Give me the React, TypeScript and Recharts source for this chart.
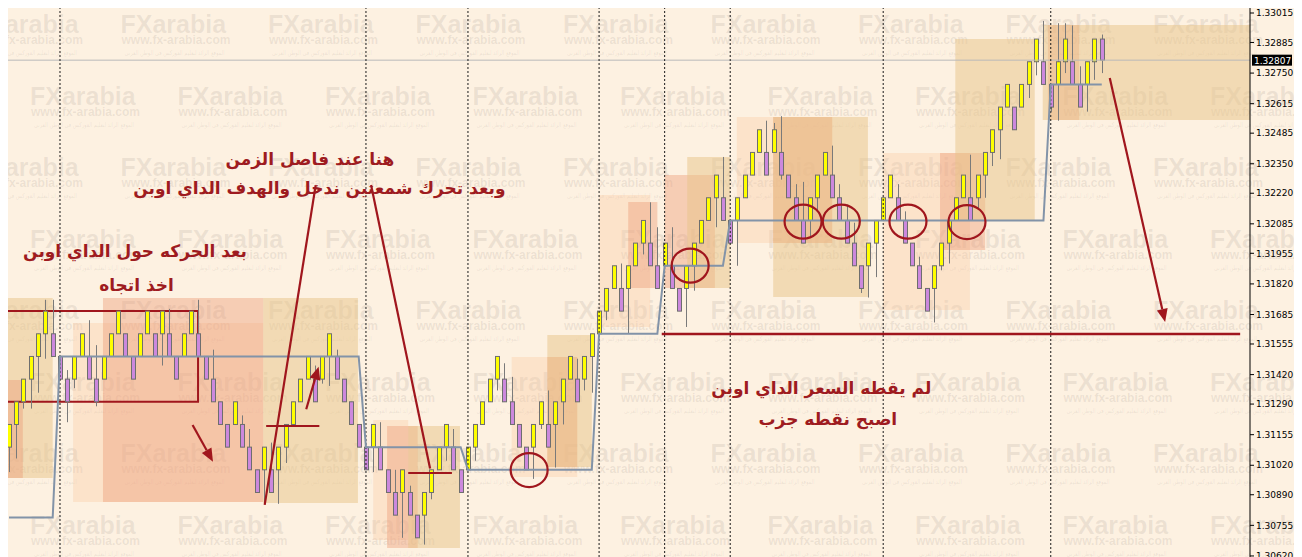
import React from "react";
import {
  ComposedChart,
  Bar,
  Line,
  XAxis,
  YAxis,
  ReferenceArea,
  ReferenceLine,
  ReferenceDot,
} from "recharts";

// price bars: [open, high, low, close]
const candles: number[][] = [
  [1.311, 1.312, 1.3099, 1.312],
  [1.312, 1.313, 1.3105, 1.313],
  [1.313, 1.314, 1.3127, 1.314],
  [1.314, 1.315, 1.3127, 1.315],
  [1.315, 1.316, 1.3134, 1.316],
  [1.316, 1.3175, 1.3149, 1.317],
  [1.316, 1.3175, 1.315, 1.315],
  [1.315, 1.315, 1.314, 1.314],
  [1.314, 1.3144, 1.3121, 1.313],
  [1.314, 1.315, 1.3136, 1.315],
  [1.315, 1.316, 1.315, 1.316],
  [1.315, 1.3166, 1.314, 1.314],
  [1.314, 1.3155, 1.3128, 1.313],
  [1.314, 1.315, 1.314, 1.315],
  [1.315, 1.316, 1.315, 1.316],
  [1.316, 1.317, 1.316, 1.317],
  [1.316, 1.316, 1.315, 1.315],
  [1.315, 1.315, 1.314, 1.314],
  [1.315, 1.316, 1.315, 1.316],
  [1.316, 1.317, 1.316, 1.317],
  [1.316, 1.316, 1.315, 1.315],
  [1.316, 1.317, 1.3146, 1.317],
  [1.316, 1.3171, 1.315, 1.315],
  [1.315, 1.315, 1.314, 1.314],
  [1.315, 1.316, 1.315, 1.316],
  [1.316, 1.317, 1.316, 1.317],
  [1.316, 1.3175, 1.315, 1.315],
  [1.315, 1.315, 1.314, 1.314],
  [1.314, 1.3153, 1.313, 1.313],
  [1.313, 1.313, 1.312, 1.312],
  [1.312, 1.312, 1.311, 1.311],
  [1.312, 1.313, 1.312, 1.313],
  [1.312, 1.3124, 1.311, 1.311],
  [1.311, 1.3118, 1.31, 1.31],
  [1.31, 1.31, 1.309, 1.309],
  [1.31, 1.311, 1.3085, 1.311],
  [1.31, 1.3112, 1.309, 1.309],
  [1.31, 1.311, 1.3085, 1.311],
  [1.311, 1.312, 1.3103, 1.312],
  [1.312, 1.313, 1.312, 1.313],
  [1.313, 1.314, 1.313, 1.314],
  [1.314, 1.315, 1.314, 1.315],
  [1.314, 1.3146, 1.313, 1.313],
  [1.314, 1.315, 1.3138, 1.315],
  [1.315, 1.316, 1.3137, 1.316],
  [1.315, 1.3153, 1.314, 1.314],
  [1.314, 1.314, 1.313, 1.313],
  [1.313, 1.313, 1.312, 1.312],
  [1.312, 1.312, 1.311, 1.311],
  [1.311, 1.311, 1.31, 1.31],
  [1.311, 1.312, 1.3099, 1.312],
  [1.311, 1.3121, 1.31, 1.31],
  [1.31, 1.31, 1.309, 1.309],
  [1.309, 1.31, 1.308, 1.308],
  [1.309, 1.31, 1.307, 1.31],
  [1.309, 1.3093, 1.308, 1.308],
  [1.308, 1.308, 1.307, 1.307],
  [1.308, 1.309, 1.3067, 1.309],
  [1.309, 1.31, 1.3087, 1.31],
  [1.31, 1.311, 1.31, 1.311],
  [1.311, 1.312, 1.3104, 1.312],
  [1.311, 1.3118, 1.31, 1.31],
  [1.31, 1.31, 1.309, 1.309],
  [1.31, 1.311, 1.31, 1.311],
  [1.311, 1.312, 1.3104, 1.312],
  [1.312, 1.313, 1.312, 1.313],
  [1.313, 1.314, 1.313, 1.314],
  [1.314, 1.315, 1.3135, 1.315],
  [1.314, 1.3147, 1.313, 1.313],
  [1.313, 1.3141, 1.312, 1.312],
  [1.312, 1.312, 1.311, 1.311],
  [1.311, 1.311, 1.31, 1.31],
  [1.311, 1.312, 1.3096, 1.312],
  [1.312, 1.313, 1.3118, 1.313],
  [1.312, 1.3135, 1.311, 1.311],
  [1.312, 1.313, 1.3101, 1.313],
  [1.313, 1.314, 1.312, 1.314],
  [1.314, 1.315, 1.314, 1.315],
  [1.314, 1.3149, 1.313, 1.313],
  [1.314, 1.315, 1.3135, 1.315],
  [1.315, 1.316, 1.3134, 1.316],
  [1.316, 1.317, 1.316, 1.317],
  [1.317, 1.318, 1.3166, 1.318],
  [1.318, 1.319, 1.318, 1.319],
  [1.318, 1.3191, 1.317, 1.317],
  [1.318, 1.319, 1.316, 1.319],
  [1.319, 1.32, 1.319, 1.32],
  [1.32, 1.321, 1.3195, 1.321],
  [1.32, 1.3218, 1.319, 1.319],
  [1.319, 1.3207, 1.318, 1.318],
  [1.319, 1.32, 1.319, 1.32],
  [1.319, 1.3207, 1.318, 1.318],
  [1.318, 1.318, 1.317, 1.317],
  [1.318, 1.319, 1.3163, 1.319],
  [1.319, 1.32, 1.3179, 1.32],
  [1.32, 1.321, 1.32, 1.321],
  [1.321, 1.322, 1.321, 1.322],
  [1.322, 1.323, 1.3207, 1.323],
  [1.322, 1.3238, 1.321, 1.321],
  [1.321, 1.321, 1.32, 1.32],
  [1.321, 1.322, 1.319, 1.322],
  [1.322, 1.323, 1.322, 1.323],
  [1.323, 1.324, 1.323, 1.324],
  [1.324, 1.325, 1.324, 1.325],
  [1.324, 1.3254, 1.323, 1.323],
  [1.324, 1.3253, 1.324, 1.325],
  [1.324, 1.3256, 1.3228, 1.323],
  [1.323, 1.323, 1.322, 1.322],
  [1.322, 1.3226, 1.321, 1.321],
  [1.321, 1.3227, 1.32, 1.32],
  [1.321, 1.322, 1.3203, 1.322],
  [1.322, 1.323, 1.3214, 1.323],
  [1.323, 1.324, 1.323, 1.324],
  [1.323, 1.3243, 1.322, 1.322],
  [1.322, 1.3226, 1.321, 1.321],
  [1.321, 1.3217, 1.32, 1.32],
  [1.32, 1.3209, 1.319, 1.319],
  [1.319, 1.319, 1.3178, 1.318],
  [1.319, 1.32, 1.3176, 1.32],
  [1.32, 1.321, 1.3185, 1.321],
  [1.321, 1.322, 1.321, 1.322],
  [1.322, 1.323, 1.322, 1.323],
  [1.322, 1.3226, 1.321, 1.321],
  [1.321, 1.3214, 1.32, 1.32],
  [1.32, 1.32, 1.319, 1.319],
  [1.319, 1.3194, 1.318, 1.318],
  [1.318, 1.318, 1.317, 1.317],
  [1.318, 1.319, 1.3165, 1.319],
  [1.319, 1.32, 1.3188, 1.32],
  [1.32, 1.321, 1.3191, 1.321],
  [1.321, 1.322, 1.321, 1.322],
  [1.322, 1.323, 1.322, 1.323],
  [1.322, 1.3239, 1.321, 1.321],
  [1.322, 1.323, 1.3215, 1.323],
  [1.323, 1.324, 1.322, 1.324],
  [1.324, 1.325, 1.3234, 1.325],
  [1.325, 1.326, 1.3237, 1.326],
  [1.326, 1.327, 1.326, 1.327],
  [1.326, 1.326, 1.325, 1.325],
  [1.326, 1.327, 1.326, 1.327],
  [1.327, 1.328, 1.3264, 1.328],
  [1.328, 1.329, 1.3274, 1.329],
  [1.328, 1.3298, 1.327, 1.327],
  [1.327, 1.327, 1.3258, 1.326],
  [1.327, 1.3297, 1.3254, 1.328],
  [1.328, 1.3297, 1.3275, 1.329],
  [1.328, 1.3296, 1.327, 1.327],
  [1.327, 1.3278, 1.326, 1.326],
  [1.327, 1.328, 1.3258, 1.328],
  [1.328, 1.329, 1.3272, 1.329],
  [1.329, 1.3292, 1.3275, 1.32807],
];

// day open level: [first bar index, level]
const dayOpenSteps: [number, number][] = [
  [0, 1.3079],
  [7, 1.315],
  [49, 1.311],
  [63, 1.31],
  [81, 1.316],
  [90, 1.319],
  [99, 1.321],
  [143, 1.327],
];

const separators = [7, 49, 63, 81, 90, 99, 120, 143];

const priceTicks = [
  1.33015, 1.32885, 1.3275, 1.32615, 1.32485, 1.3235, 1.3222, 1.32085, 1.31955,
  1.3182, 1.31685, 1.31555, 1.3142, 1.3129, 1.31155, 1.3102, 1.3089, 1.30755,
  1.3062,
];

const lastPrice = 1.32807;

// session boxes: [from bar, to bar, top, bottom, kind]
const zones: [number, number, number, number, string][] = [
  [-0.14, 6.0, 1.31758, 1.30964, "tan"],
  [-0.14, 1.9, 1.31396, 1.30964, "salmon"],
  [8.8, 34.9, 1.31648, 1.30858, "peach"],
  [12.9, 34.9, 1.31758, 1.30858, "salmon"],
  [34.9, 47.9, 1.31758, 1.30854, "tan"],
  [50.0, 54.8, 1.3122, 1.3069, "peach"],
  [51.9, 56.1, 1.31193, 1.30655, "salmon"],
  [54.8, 61.9, 1.31193, 1.30655, "tan"],
  [69.0, 78.0, 1.31498, 1.30968, "peach"],
  [73.9, 78.0, 1.31498, 1.31012, "salmon"],
  [73.9, 80.0, 1.31595, 1.31012, "tan"],
  [81.0, 88.0, 1.32212, 1.3163, "peach"],
  [85.0, 89.0, 1.32181, 1.31802, "salmon"],
  [90.0, 96.9, 1.323, 1.31802, "salmon"],
  [93.1, 99.0, 1.3238, 1.31802, "tan"],
  [99.9, 113.0, 1.32556, 1.32, "peach"],
  [104.9, 113.0, 1.32556, 1.32, "salmon"],
  [104.9, 117.9, 1.32556, 1.31762, "tan"],
  [120.0, 131.9, 1.32397, 1.31705, "peach"],
  [127.8, 134.0, 1.32397, 1.3197, "salmon"],
  [129.9, 140.8, 1.329, 1.32102, "tan"],
  [142.6, 146.9, 1.32962, 1.32543, "salmon"],
  [141.9, 170.4, 1.32962, 1.32543, "tan"],
];

// red annotation segments: [x1, y1, x2, y2, arrow head]
const pointers: [number, number, number, number, boolean][] = [
  [25.2, 1.31198, 28.0, 1.31036, true],
  [40.8, 1.31267, 42.5, 1.31455, true],
  [42.1, 1.32256, 35.1, 1.30845, false],
  [49.7, 1.32256, 57.8, 1.31006, false],
  [151.1, 1.32728, 158.7, 1.31652, true],
];

// red horizontal marks: [from bar, to bar, price, width]
const marks: [number, number, number, number][] = [
  [35.3, 42.6, 1.31193, 2],
  [54.8, 60.8, 1.30986, 2],
  [89.6, 169.0, 1.31599, 2.6],
];

const touches: [number, number][] = [
  [71.4, 1.30999],
  [93.5, 1.31901],
  [109.0, 1.32095],
  [114.25, 1.32095],
  [123.4, 1.32095],
  [131.5, 1.32093],
];

const notes: [string, number, number][] = [
  ["هنا عند فاصل الزمن", 41.3, 1.32371],
  ["وبعد تحرك شمعتين ندخل والهدف الداي اوبن", 42.6, 1.32243],
  ["بعد الحركه حول الداي اوبن", 17.3, 1.31965],
  ["اخذ اتجاه", 17.5, 1.31815],
  ["لم يقطه السعر الداي اوبن", 111.5, 1.31361],
  ["اصبح نقطه جزب", 112.4, 1.31224],
];

const RED = "#a0161d";
const BG = "#fdf1e1";
const zoneFill: Record<string, [string, number]> = {
  peach: ["#f9c9a0", 0.35],
  salmon: ["#ec9a78", 0.42],
  tan: ["#e8c488", 0.5],
};

const data = candles.map(([open, high, low, close], i) => {
  let dayOpen = dayOpenSteps[0][1];
  for (const [start, level] of dayOpenSteps) if (i >= start) dayOpen = level;
  return { i, open, high, low, close, range: [low, high], dayOpen };
});

function Candle(props: any) {
  const { x, y, width, height, payload } = props;
  if (x == null || !payload) return null;
  const top = Math.min(y, y + height);
  const h = Math.abs(height);
  const { open, close, high, low } = payload;
  const span = high - low || 1e-9;
  const py = (v: number) => top + ((high - v) / span) * h;
  const cx = Math.round(x + width / 2) + 0.5;
  const up = close >= open;
  const bTop = py(Math.max(open, close));
  const bBot = py(Math.min(open, close));
  return (
    <g>
      <line x1={cx} x2={cx} y1={top} y2={top + h} stroke="#7a7a7a" strokeWidth={1} />
      <rect
        x={cx - 2}
        y={bTop}
        width={4}
        height={Math.max(1, bBot - bTop)}
        fill={up ? "#ffff00" : "#cc88dd"}
        stroke="#6e6e6e"
        strokeWidth={1}
      />
    </g>
  );
}

function PriceTag(props: any) {
  const vb = props.viewBox;
  if (!vb) return null;
  const x = vb.x + vb.width + 2;
  const y = vb.y;
  return (
    <g>
      <rect x={x} y={y - 5.5} width={40} height={11} fill="#000" />
      <text x={x + 2} y={y + 0.5} dominantBaseline="central" fill="#fff" fontSize={9} fontFamily="DejaVu Sans">
        {lastPrice.toFixed(5)}
      </text>
    </g>
  );
}

function Pointer(props: any) {
  const { x1, y1, x2, y2, head } = props;
  const ang = Math.atan2(y2 - y1, x2 - x1);
  const L = 13;
  const W = 5.5;
  const bx = x2 - L * Math.cos(ang);
  const by = y2 - L * Math.sin(ang);
  const px = -Math.sin(ang) * W;
  const py = Math.cos(ang) * W;
  return (
    <g>
      <line x1={x1} y1={y1} x2={head ? bx : x2} y2={head ? by : y2} stroke={RED} strokeWidth={2.2} />
      {head && (
        <polygon points={`${x2},${y2} ${bx + px},${by + py} ${bx - px},${by - py}`} fill={RED} />
      )}
    </g>
  );
}

function Watermark() {
  const items: React.ReactNode[] = [];
  for (let r = 0; r < 8; r++) {
    const base = 25 + r * 71.5;
    const start = r % 2 === 0 ? -35 : 22;
    for (let c = 0; c < 10; c++) {
      const x = start + c * 147.5;
      items.push(
        <g key={`${r}-${c}`} fill="rgba(120,110,100,0.13)">
          <text x={x} y={base} fontSize={25} fontWeight={700} fontFamily="Liberation Sans">
            FXarabia
          </text>
          <text x={x + 1} y={base + 11} fontSize={12} fontWeight={700} fontFamily="Liberation Sans">
            www.fx-arabia.com
          </text>
          <text
            x={x + 4}
            y={base + 22}
            fontSize={6.5}
            fontFamily="DejaVu Sans"
            textLength={100}
            lengthAdjust="spacingAndGlyphs"
          >
            الموقع الرائد لتعليم الفوركس في الوطن العربي
          </text>
        </g>
      );
    }
  }
  return (
    <svg width={1294} height={549} style={{ position: "absolute", left: 0, top: 0 }}>
      {items}
    </svg>
  );
}

export default function App() {
  return (
    <div style={{ position: "relative", width: 1294, height: 549, background: BG, overflow: "hidden" }}>
      <style>{"html,body{overflow:hidden}"}</style>
      <Watermark />
      <div style={{ position: "absolute", left: 0, top: 0 }}>
        <ComposedChart width={1294} height={549} data={data} margin={{ top: 0, right: 0, bottom: 0, left: 0 }}>
          <XAxis dataKey="i" type="number" domain={[-0.137, 170.35]} hide allowDataOverflow />
          <YAxis
            orientation="right"
            type="number"
            domain={[1.306154, 1.330371]}
            allowDataOverflow
            ticks={priceTicks}
            interval={0}
            tickFormatter={(v: number) => v.toFixed(5)}
            width={52}
            tickSize={4}
            tickMargin={2}
            tick={{ fontSize: 9, fill: "#000", fontFamily: "DejaVu Sans" }}
            tickLine={{ stroke: "#000" }}
            axisLine={{ stroke: "#000" }}
          />
          {zones.map(([a, b, top, bot, kind], k) => (
            <ReferenceArea
              key={`z${k}`}
              x1={a}
              x2={b}
              y1={bot}
              y2={top}
              fill={zoneFill[kind][0]}
              fillOpacity={zoneFill[kind][1]}
              stroke="none"
              ifOverflow="hidden"
            />
          ))}
          <ReferenceLine y={lastPrice} stroke="#b9b9b9" strokeWidth={1} label={<PriceTag />} />
          {separators.map((s) => (
            <ReferenceLine key={`s${s}`} x={s} stroke="#1a1a1a" strokeDasharray="2 2" strokeWidth={1} />
          ))}
          <Bar dataKey="range" barSize={5} shape={<Candle />} isAnimationActive={false} />
          <Line
            dataKey="dayOpen"
            type="linear"
            stroke="#8293a8"
            strokeWidth={2}
            dot={false}
            activeDot={false}
            isAnimationActive={false}
          />
          <ReferenceArea
            x1={-2}
            x2={25.95}
            y1={1.313}
            y2={1.317}
            fill="none"
            fillOpacity={0}
            stroke={RED}
            strokeWidth={2}
            ifOverflow="hidden"
          />
          {marks.map(([a, b, p, w], k) => (
            <ReferenceLine
              key={`m${k}`}
              segment={[
                { x: a, y: p },
                { x: b, y: p },
              ]}
              stroke={RED}
              strokeWidth={w}
            />
          ))}
          {pointers.map(([a, p, b, q, head], k) => (
            <ReferenceLine
              key={`p${k}`}
              segment={[
                { x: a, y: p },
                { x: b, y: q },
              ]}
              shape={(sp: any) => <Pointer {...sp} head={head} />}
            />
          ))}
          {touches.map(([a, p], k) => (
            <ReferenceDot
              key={`t${k}`}
              x={a}
              y={p}
              shape={(sp: any) => (
                <ellipse cx={sp.cx} cy={sp.cy} rx={18.5} ry={17} fill="none" stroke={RED} strokeWidth={2.2} />
              )}
            />
          ))}
          {notes.map(([t, a, p], k) => (
            <ReferenceDot
              key={`n${k}`}
              x={a}
              y={p}
              shape={(sp: any) => (
                <text
                  x={sp.cx}
                  y={sp.cy}
                  textAnchor="middle"
                  dominantBaseline="central"
                  fill="#9e1b20"
                  fontSize={17}
                  fontWeight={700}
                  fontFamily="DejaVu Sans"
                >
                  {t}
                </text>
              )}
            />
          ))}
        </ComposedChart>
      </div>
    </div>
  );
}
